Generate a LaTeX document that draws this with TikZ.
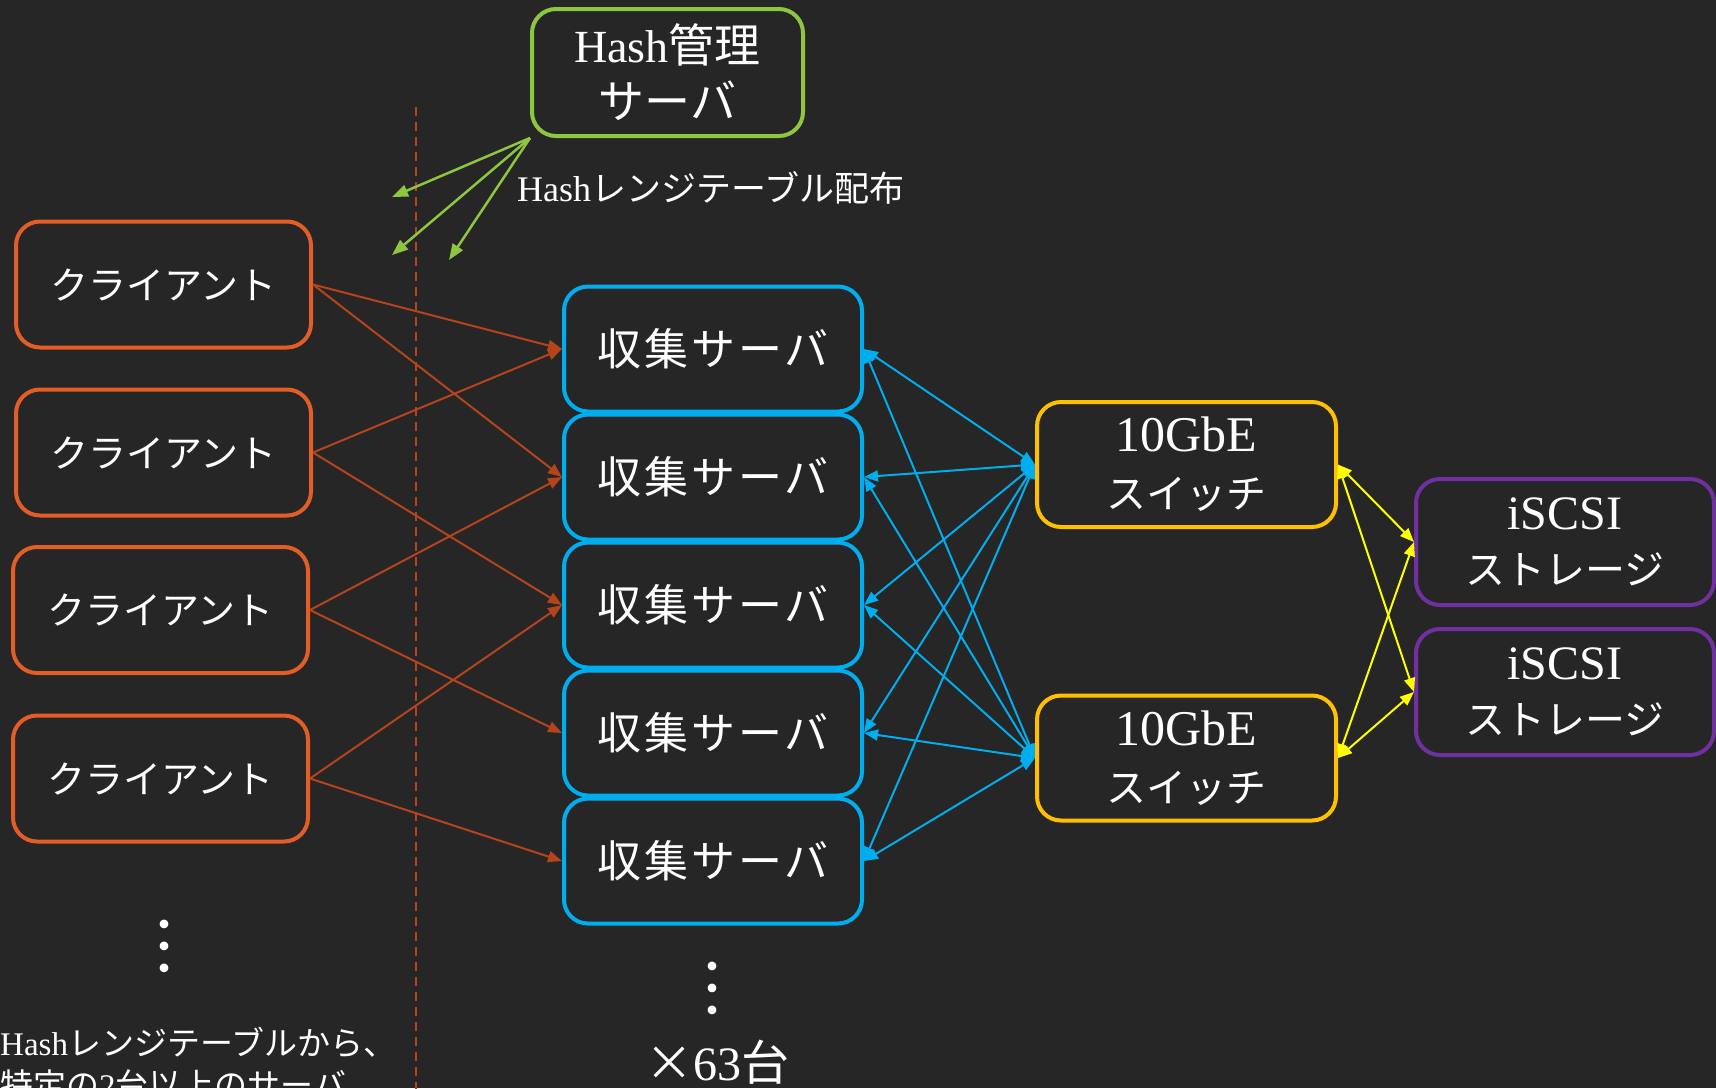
\documentclass[tikz,border=0pt]{standalone}
\usepackage{fontspec}
\setmainfont{Liberation Serif}
\newfontfamily\cjk{Noto Sans CJK JP}
\usetikzlibrary{arrows.meta,calc}
\definecolor{bgc}{HTML}{262626}
\definecolor{grn}{HTML}{8DC63F}
\definecolor{org}{HTML}{E35D27}
\definecolor{orgline}{HTML}{B5441D}
\definecolor{blu}{HTML}{00AEEF}
\definecolor{ylwbox}{HTML}{FFC000}
\definecolor{ylwline}{HTML}{FFFF00}
\definecolor{pur}{HTML}{7030A0}
\newcommand\J[1]{{\cjk #1}}
\tikzset{
  tipa/.tip={Triangle[length=14pt,width=11pt]},
  tipg/.tip={Triangle[length=16pt,width=12pt]},
  box/.style={draw, rounded corners=24pt, line width=4pt, inner sep=0pt, align=center, text=white},
  hashbox/.style={box, draw=grn, minimum width=271pt, minimum height=127pt, font=\fontsize{46}{56}\selectfont},
  clientbox/.style={box, draw=org, minimum width=295pt, minimum height=126pt, font=\cjk\fontsize{38}{46}\selectfont},
  serverbox/.style={box, draw=blu, minimum width=298pt, minimum height=125pt, font=\cjk\fontsize{44}{50}\selectfont},
  switchbox/.style={box, draw=ylwbox, minimum width=299pt, minimum height=125pt, font=\fontsize{50}{57}\selectfont},
  storebox/.style={box, draw=pur, minimum width=298pt, minimum height=126pt, font=\fontsize{48}{55}\selectfont},
  garrow/.style={draw=grn, line width=2.5pt, -tipg},
  oarrow/.style={draw=orgline, line width=2pt, -tipa},
  barrow/.style={draw=blu, line width=2pt, tipa-tipa},
  yarrow/.style={draw=ylwline, line width=2pt, tipa-tipa},
  plain/.style={text=white, inner sep=0pt},
}
\begin{document}
\begin{tikzpicture}[x=1pt,y=-1pt]
\useasboundingbox (0,0) rectangle (1716,1088);
\fill[bgc] (0,0) rectangle (1716,1088);

% dashed separator
\coordinate (dtop) at (416,107);
\coordinate (dbot) at (416,1090);
\draw[orgline, line width=1.8pt, dash pattern=on 9pt off 6pt] (dtop) -- (dbot);

% nodes
\node[hashbox] (hash) at (667.5,72.5) {Hash\J{管理}\\\J{サーバ}};

\node[clientbox] (c1) at (163.5,284.5) {クライアント};
\node[clientbox] (c2) at (163.5,452.5) {クライアント};
\node[clientbox] (c3) at (160.5,610) {クライアント};
\node[clientbox] (c4) at (160.5,778.5) {クライアント};

\node[serverbox] (s1) at (713,349) {\addfontfeature{LetterSpace=7}収集サーバ};
\node[serverbox] (s2) at (713,477) {\addfontfeature{LetterSpace=7}収集サーバ};
\node[serverbox] (s3) at (713,605) {\addfontfeature{LetterSpace=7}収集サーバ};
\node[serverbox] (s4) at (713,733) {\addfontfeature{LetterSpace=7}収集サーバ};
\node[serverbox] (s5) at (713,861) {\addfontfeature{LetterSpace=7}収集サーバ};

\node[switchbox] (w1) at (1186.5,464.5) {10GbE\\{\cjk\fontsize{40}{57}\selectfont スイッチ}};
\node[switchbox] (w2) at (1186.5,758) {10GbE\\{\cjk\fontsize{40}{57}\selectfont スイッチ}};

\node[storebox] (i1) at (1565,542) {iSCSI\\{\cjk\fontsize{40}{55}\selectfont ストレージ}};
\node[storebox] (i2) at (1565,692) {iSCSI\\{\cjk\fontsize{40}{55}\selectfont ストレージ}};

% labels
\node[plain, anchor=west] (lbl) at (517,188) {\fontsize{36}{40}\selectfont Hash\J{\fontsize{35}{40}\selectfont レンジテーブル配布}};
\node[plain, anchor=north west, align=left, font=\fontsize{33}{42}\selectfont] (note) at (0,1027) {Hash\J{レンジテーブルから、}\\\J{特定の}2\J{台以上のサーバ}};
\node[plain, anchor=base] (cnt) at (717,1080) {\fontsize{48}{52}\selectfont \J{×}63\J{台}};
\node[plain] (dotsc) at (164,946) {\cjk\fontsize{66}{66}\selectfont ︙};
\node[plain] (dotss) at (712,988) {\cjk\fontsize{66}{66}\selectfont ︙};

% green arrows
\coordinate (g1) at (392,197);
\coordinate (g2) at (392,255);
\coordinate (g3) at (449,260);
\draw[garrow] (hash.south west) -- (g1);
\draw[garrow] (hash.south west) -- (g2);
\draw[garrow] (hash.south west) -- (g3);

% client -> server
\draw[oarrow] (c1.east) -- (s1.west);
\draw[oarrow] (c1.east) -- (s2.west);
\draw[oarrow] (c2.east) -- (s1.west);
\draw[oarrow] (c2.east) -- (s3.west);
\draw[oarrow] (c3.east) -- (s2.west);
\draw[oarrow] (c3.east) -- (s4.west);
\draw[oarrow] (c4.east) -- (s3.west);
\draw[oarrow] (c4.east) -- (s5.west);

% server <-> switch
\foreach \s in {s1,s2,s3,s4,s5}{
  \draw[barrow] (\s.east) -- (w1.west);
  \draw[barrow] (\s.east) -- (w2.west);
}

% switch <-> storage
\draw[yarrow] (w1.east) -- (i1.west);
\draw[yarrow] (w1.east) -- (i2.west);
\draw[yarrow] (w2.east) -- (i1.west);
\draw[yarrow] (w2.east) -- (i2.west);
\end{tikzpicture}
\end{document}
